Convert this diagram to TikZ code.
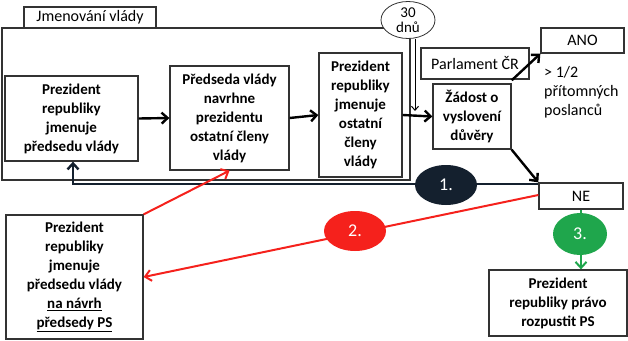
\documentclass[tikz,border=0pt]{standalone}
\usepackage{fontspec}
\setmainfont{Carlito}
\usetikzlibrary{arrows.meta,shapes.geometric}
\definecolor{tmava}{HTML}{14202E}
\definecolor{cervena}{HTML}{F5211C}
\definecolor{zelena}{HTML}{1FA64C}
\begin{document}
\begin{tikzpicture}[x=1pt,y=-1pt,
    box/.style={draw=black!80,line width=1.3pt,align=center,inner sep=0pt,
      font=\fontsize{15}{19}\selectfont\bfseries},
    lbl/.style={draw=black!80,line width=1.3pt,align=center,inner sep=0pt,
      font=\fontsize{16}{17}\selectfont},
    sipka/.style={line width=2.4pt,-{Straight Barb[length=6pt,width=11pt]}},
    kolo/.style={ellipse,minimum width=62pt,minimum height=40pt,text=white,
      font=\fontsize{18}{18}\selectfont}]
\useasboundingbox (0,0) rectangle (628,340);
    % ramecek
    \draw[black!80,line width=1.3pt] (2,28) rectangle (410,180);
    \node[lbl,minimum width=132pt,minimum height=21pt] (tab) at (90,17.5) {Jmenování vlády};
    \node[lbl,ellipse,fill=white,minimum width=54pt,minimum height=37pt,
      font=\fontsize{15}{15}\selectfont,line width=0.8pt] (dny) at (408,20) {30\\dnů};
    % boxy
    \node[box,minimum width=133pt,minimum height=85pt] (pr) at (71.5,118.5)
      {Prezident\\republiky\\jmenuje\\předsedu vlády};
    \node[box,minimum width=119pt,minimum height=104pt] (pv) at (229.5,118)
      {Předseda vlády\\navrhne\\prezidentu\\ostatní členy\\vlády};
    \node[box,minimum width=83pt,minimum height=124pt] (cl) at (360.5,115)
      {Prezident\\republiky\\jmenuje\\ostatní\\členy\\vlády};
    \node[box,minimum width=78pt,minimum height=65pt] (zd) at (472,116.5)
      {Žádost o\\vyslovení\\důvěry};
    \node[lbl,minimum width=108pt,minimum height=31pt] (parl) at (475,63.5) {Parlament ČR};
    \node[lbl,minimum width=83pt,minimum height=25pt] (ano) at (582.5,40.5) {ANO};
    \node[lbl,minimum width=84pt,minimum height=26pt] (ne) at (581,196) {NE};
    \node[align=left,anchor=north west,inner sep=0pt,font=\fontsize{16}{19}\selectfont]
      (pol) at (544,66) {> 1/2\\přítomných\\poslanců};
    \node[box,minimum width=138pt,minimum height=66pt] (rp) at (558,303)
      {Prezident\\republiky právo\\rozpustit PS};
    \node[box,minimum width=137pt,minimum height=124pt] (ps) at (74.5,277)
      {Prezident\\republiky\\jmenuje\\předsedu vlády\\\underline{na návrh}\\\underline{předsedy PS}};
    % sipky
    \draw[sipka] (pr.east) -- (pv.west);
    \draw[sipka] (pv.east) -- (cl.west);
    \draw[sipka] (cl.east) -- (zd.west);
    \draw[line width=1pt,-{Straight Barb[length=4pt,width=7pt]}] (dny.south -| 415,0) -- (415,111);
    \draw[sipka] (zd.north east) ++(0,-3) -- (ano.south west);
    \draw[sipka] (zd.south east) -- (ne.north west);
    % 1.
    \coordinate (ohyb) at (73,184);
    \draw[tmava,sipka] (ne.west |- 0,184) -- (ohyb) -- (pr.south -| ohyb);
    \node[kolo,fill=tmava] (k1) at (446,185) {1.};
    % 2.
    \draw[cervena,line width=2pt,-{Straight Barb[length=6pt,width=11pt]}] (ne.west |- 0,195) -- (ps.east);
    \draw[cervena,line width=2pt,-{Straight Barb[length=6pt,width=11pt]}] (ps.north east) -- (pv.south);
    \node[kolo,fill=cervena] (k2) at (355,231) {2.};
    % 3.
    \draw[zelena,line width=2pt,-{Straight Barb[length=6pt,width=11pt]}] (ne.south) -- (rp.north -| ne.south);
    \node[kolo,fill=zelena,minimum width=54pt,minimum height=42pt] (k3) at (580,234) {3.};
\end{tikzpicture}
\end{document}
